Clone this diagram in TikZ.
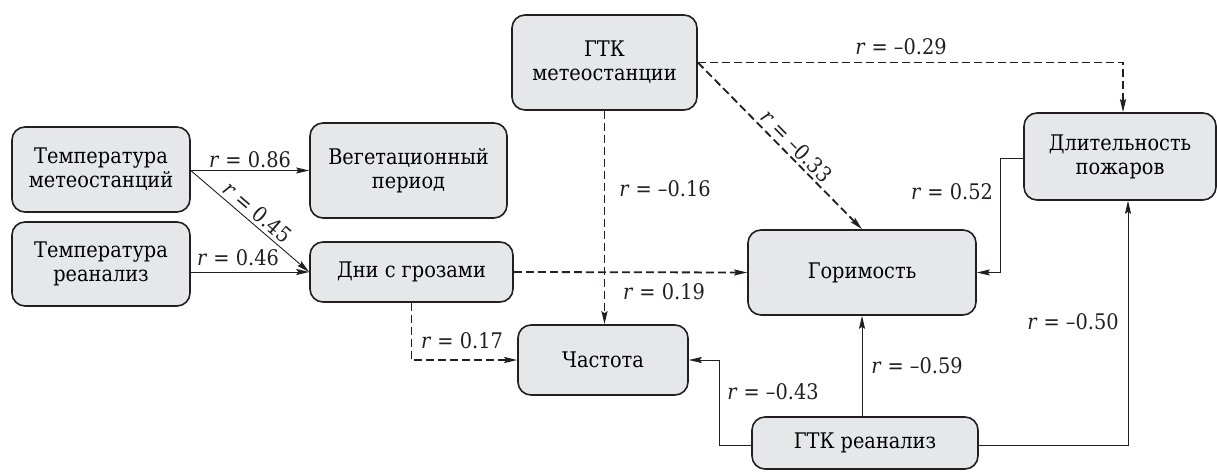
\documentclass[tikz,border=0pt]{standalone}
\usepackage{fontspec}
\setmainfont{DejaVu Serif}
\newfontfamily\condfont{DejaVu Serif Condensed}
\usetikzlibrary{arrows.meta,calc}
\definecolor{boxfill}{HTML}{E6E7E8}
\definecolor{ink}{HTML}{231F20}
\begin{document}
\begin{tikzpicture}[x=1pt,y=-1pt,
  font=\condfont\fontsize{21.5}{24}\selectfont,
  box/.style={draw=ink,fill=boxfill,line width=1.6pt,rounded corners=13pt,
    align=center,inner sep=0pt},
  conn/.style={draw=ink,line width=0.9pt,-{Stealth[length=13pt,width=6pt,inset=2pt]}},
  dconn/.style={conn,line width=1.8pt,dash pattern=on 8pt off 4pt},
  lab/.style={text=ink,inner sep=1pt}]
\useasboundingbox (0,0) rectangle (1217,471);
% boxes
\node[box,minimum width=178pt,minimum height=85pt] (tm) at (101,169.5) {Температура\\метеостанций};
\node[box,minimum width=178pt,minimum height=84pt] (tr) at (101,264) {Температура\\реанализ};
\node[box,minimum width=197pt,minimum height=95pt] (veg) at (408.5,170.5) {Вегетационный\\период};
\node[box,minimum width=203pt,minimum height=60pt] (dni) at (411.5,272) {Дни с грозами};
\node[box,minimum width=185pt,minimum height=95pt] (gtkm) at (604.5,62.5) {ГТК\\метеостанции};
\node[box,minimum width=228pt,minimum height=85pt] (gor) at (862,272.5) {Горимость};
\node[box,minimum width=170pt,minimum height=70pt] (chast) at (603,360) {Частота};
\node[box,minimum width=226pt,minimum height=52pt] (gtkr) at (865,443) {ГТК реанализ};
\node[box,minimum width=192pt,minimum height=87pt] (dlit) at (1120,156.5) {Длительность\\пожаров};
% connectors
\draw[conn] (tm.east |- veg.west) -- (veg.west);
\draw[conn] (tm.east |- veg.west) -- node[lab,sloped,above,pos=0.5,yshift=2pt] {\textit{r} = 0.45} (dni.west);
\draw[conn] (tr.east |- dni.west) -- (dni.west);
\draw[dconn] (dni.east) -- (gor.west);
\draw[dconn] (dni.south) |- (chast.west);
\draw[dconn] (gtkm.south) -- (gtkm.south |- chast.north);
\draw[dconn] (gtkm.east) -- node[lab,sloped,above,pos=0.55,yshift=2pt] {\textit{r} = –0.33} (gor.north);
\draw[dconn] (gtkm.east) -| ($(dlit.north)+(3,0)$);
\draw[conn] (dlit.west |- 0,158) -- ++(-23,0) |- (gor.east);
\draw[conn] (gtkr.west |- 0,445) -- ++(-32,0) |- (chast.east);
\draw[conn] (gor.south |- gtkr.north) -- (gor.south);
\draw[conn] (gtkr.east |- 0,445) -| ($(dlit.south)+(8,0)$);
% labels
\node[lab] (l1) at (250,160) {\textit{r} = 0.86};
\node[lab] (l2) at (238,258) {\textit{r} = 0.46};
\node[lab] (l3) at (901,47) {\textit{r} = –0.29};
\node[lab] (l4) at (665,189) {\textit{r} = –0.16};
\node[lab] (l5) at (952,192) {\textit{r} = 0.52};
\node[lab] (l6) at (664,292) {\textit{r} = 0.19};
\node[lab] (l7) at (462,341) {\textit{r} = 0.17};
\node[lab] (l8) at (773,392) {\textit{r} = –0.43};
\node[lab] (l9) at (917,366) {\textit{r} = –0.59};
\node[lab] (l10) at (1073,322) {\textit{r} = –0.50};
\end{tikzpicture}
\end{document}
